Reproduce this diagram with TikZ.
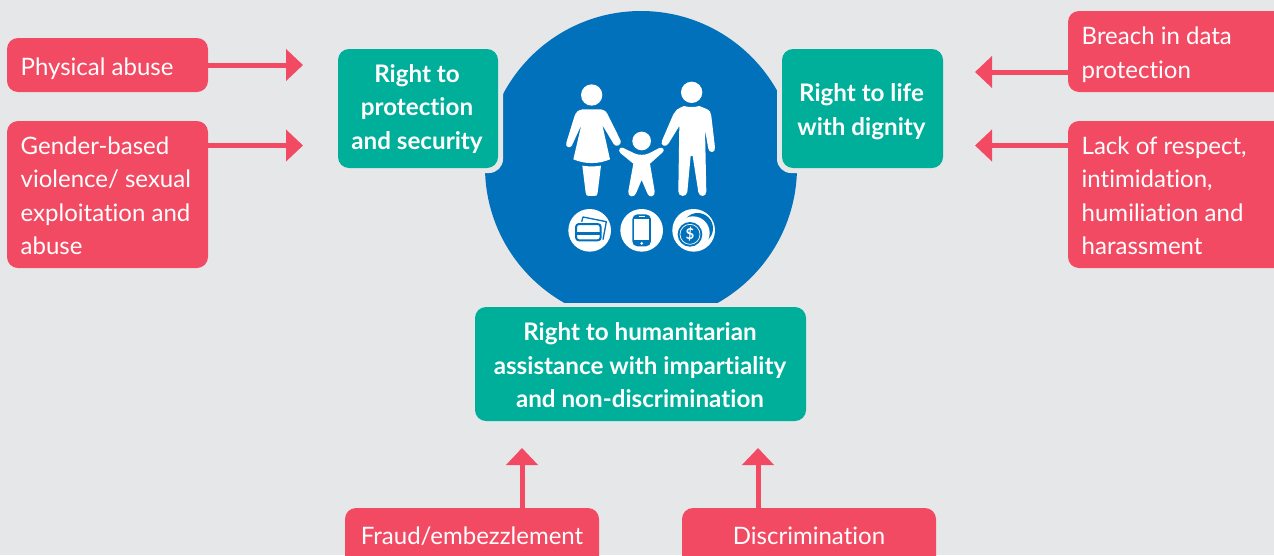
\documentclass[tikz,border=0pt]{standalone}
\usepackage{fontspec}
\setmainfont[Ligatures=CommonOff]{Lato}
\usetikzlibrary{arrows.meta}
\definecolor{bgc}{HTML}{E6E7E9}
\definecolor{bluec}{HTML}{0271BB}
\definecolor{tealc}{HTML}{00AF9A}
\definecolor{redc}{HTML}{F34A64}
\tikzset{
  x=1pt,y=-1pt,
  redbox/.style={fill=redc,rounded corners=11pt},
  tealbox/.style={fill=tealc,rounded corners=11pt},
  redtext/.style={text=white,font=\fontsize{24}{33.5}\selectfont,align=left,anchor=west,inner sep=0pt},
  tealtext/.style={text=white,font=\fontsize{24.2}{33.5}\selectfont\bfseries,align=center,inner sep=0pt},
  link/.style={draw=redc,line width=5pt,-{Triangle[length=17pt,width=31pt]}},
  figure/.style={fill=white,draw=none},
}
\begin{document}
\begin{tikzpicture}
\useasboundingbox (0,0) rectangle (1274,555);
\clip (0,0) rectangle (1274,555);
\fill[bgc] (0,0) rectangle (1274,555);
% central disc
\begin{scope}
  \clip (0,0) rectangle (1274,302);
  \fill[bluec] (641,167) circle[radius=156];
\end{scope}
% halos around the top boxes
\fill[bgc,rounded corners=14pt] (300,30) rectangle (503,173);
\fill[bgc,rounded corners=14pt] (777,30) rectangle (980,173);
% people
\begin{scope}[shift={(540,70)},x=0.3333pt,y=-0.3333pt]
  \fill[figure] (155,75) circle[radius=32];
  \fill[figure] (128,118) -- (182,118) .. controls (195,120) and (200,126) .. (205,137)
    -- (242,212) .. controls (246,224) and (228,234) .. (221,222) -- (187,165)
    -- (210,268) .. controls (175,283) and (135,283) .. (100,268) -- (124,165)
    -- (96,226) .. controls (90,238) and (74,230) .. (79,218) -- (103,140)
    .. controls (108,125) and (115,120) .. (128,118) -- cycle;
  \fill[figure] (127,287) .. controls (145,290) and (165,290) .. (183,287) -- (173,368)
    .. controls (172,376) and (170,378) .. (163,378) -- (147,378)
    .. controls (140,378) and (138,376) .. (137,368) -- cycle;
  \fill[figure] (305,213) circle[radius=28];
  \fill[figure] (240,235) .. controls (244,232) and (248,232) .. (252,235)
    -- (283,250) .. controls (295,256) and (315,256) .. (327,250) -- (358,234)
    .. controls (368,230) and (376,240) .. (368,247) -- (330,281)
    -- (344,364) .. controls (347,381) and (326,385) .. (322,370) -- (305,330)
    -- (288,370) .. controls (283,385) and (262,381) .. (265,364) -- (280,281)
    -- (242,250) .. controls (236,245) and (236,239) .. (240,235) -- cycle;
  \fill[figure] (455,67) circle[radius=32];
  \fill[figure] (432,108) .. controls (445,112) and (465,112) .. (478,108)
    -- (500,117) .. controls (510,122) and (513,128) .. (514,138) -- (525,232)
    .. controls (527,250) and (507,250) .. (505,236) -- (495,178)
    -- (499,364) .. controls (500,382) and (477,382) .. (475,366) -- (458,258)
    -- (452,258) -- (442,366) .. controls (440,382) and (415,382) .. (415,364)
    -- (418,168) -- (386,220) .. controls (378,234) and (359,226) .. (366,212)
    -- (400,133) .. controls (405,122) and (412,116) .. (432,108) -- cycle;
\end{scope}
% icons
\begin{scope}[shift={(565,205)},x=0.3333pt,y=-0.3333pt]
  \fill[white] (74,76) circle[radius=64];
  \fill[white] (230,76) circle[radius=64];
  \fill[white] (386,76) circle[radius=64];
  % cards
  \draw[bluec,line width=1.3pt,line join=round] (50,50) -- (54,36) -- (124,50) -- (114,104);
  \fill[white] (30,54) rectangle (110,108);
  \draw[bluec,line width=2pt,rounded corners=3pt] (33,57) rectangle (107,106);
  \fill[bluec] (33,82) rectangle (107,90);
  % phone
  \fill[bluec,rounded corners=5pt] (202,28) rectangle (258,124);
  \fill[white] (208,43) rectangle (252,106);
  \fill[white] (230,115) circle[radius=4.5];
  \fill[white] (221,34) rectangle (239,36.5);
  % coins
  \fill[bluec] (398,70) circle[radius=46];
  \fill[white] (384,84) circle[radius=50];
  \fill[bluec] (375,88) circle[radius=37];
  \draw[white,line width=0.7pt] (375,88) circle[radius=30];
\end{scope}
\node[text=white,font=\fontsize{15}{15}\selectfont\bfseries,inner sep=0pt] (dollar) at (690,234) {\$};
% teal boxes
\fill[tealbox] (338,49) rectangle (498,168);
\fill[tealbox] (782,49) rectangle (943,168);
\fill[tealbox] (475,307) rectangle (806,421);
\node[tealtext] (protection) at (417,108.7) {Right to\\protection\\and security};
\node[tealtext] (dignity) at (861.5,111.7) {Right to life\\with dignity};
\node[tealtext] (impartial) at (640,365.4) {Right to humanitarian\\assistance with impartiality\\and non-discrimination};
% red boxes
\path[redbox] (7,38) rectangle (208,92);
\path[redbox] (7,121) rectangle (208,268);
\path[redbox] (1068,11) rectangle (1290,92);
\path[redbox] (1068,121) rectangle (1290,268);
\path[redbox] (345,508) rectangle (599,580);
\path[redbox] (682,508) rectangle (936,580);
\coordinate (pa) at (208,65);
\coordinate (ga) at (208,145.5);
\coordinate (ba) at (1068,72);
\coordinate (la) at (1068,145.5);
\coordinate (fa) at (522,508);
\coordinate (da) at (758,508);
\coordinate (pe) at (303,65);
\coordinate (ge) at (303,145.5);
\coordinate (be) at (975,72);
\coordinate (le) at (975,145.5);
\coordinate (fe) at (522,448);
\coordinate (de) at (758,448);
\node[redtext] (physical) at (20.5,69) {Physical abuse};
\node[redtext] (gender) at (20.5,196) {Gender-based\\violence/ sexual\\exploitation and\\abuse};
\node[redtext] (breach) at (1081.5,54.5) {Breach in data\\protection};
\node[redtext] (lack) at (1081.5,196) {Lack of respect,\\intimidation,\\humiliation and\\harassment};
\node[redtext,anchor=center] (fraud) at (472,536) {Fraud/embezzlement};
\node[redtext,anchor=center] (discr) at (809,536) {Discrimination};
\draw[link] (pa) -- (pe);
\draw[link] (ga) -- (ge);
\draw[link] (ba) -- (be);
\draw[link] (la) -- (le);
\draw[link] (fa) -- (fe);
\draw[link] (da) -- (de);
\end{tikzpicture}
\end{document}
